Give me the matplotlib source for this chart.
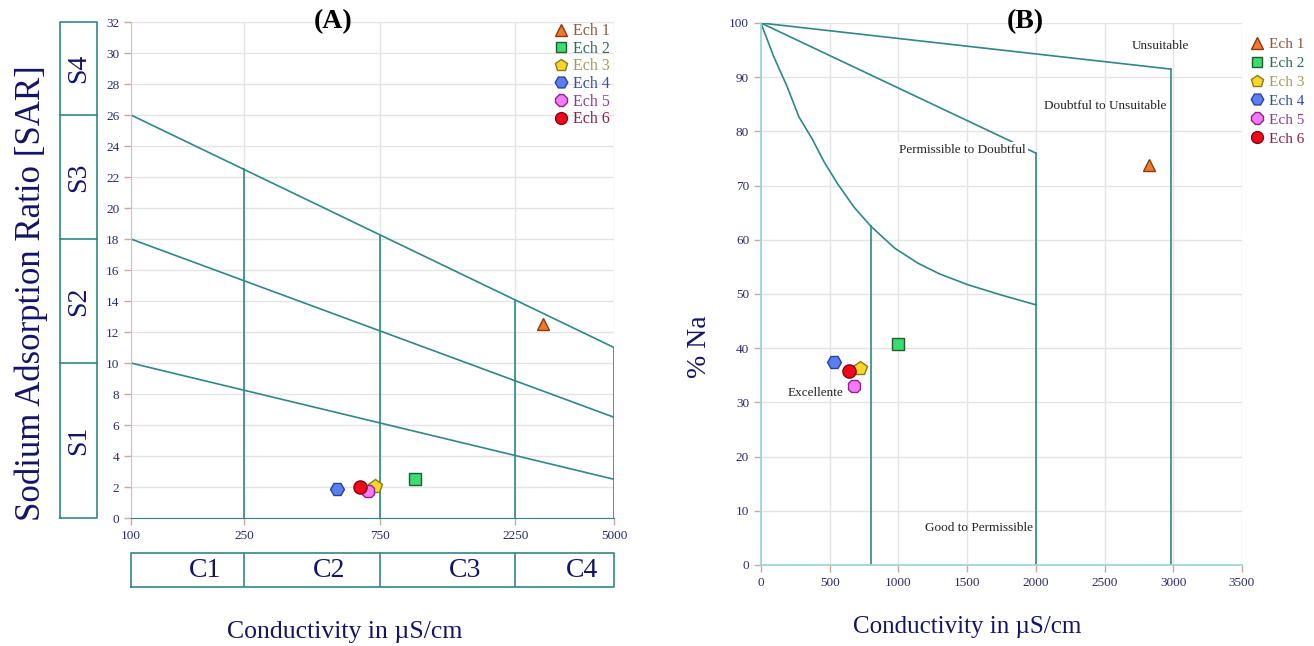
import matplotlib
matplotlib.use("Agg")
import matplotlib.pyplot as plt
from matplotlib.lines import Line2D
import numpy as np

plt.rcParams["font.family"] = ["Liberation Serif", "DejaVu Serif"]

# samples
samples = ["Ech 1", "Ech 2", "Ech 3", "Ech 4", "Ech 5", "Ech 6"]
ec = [2820, 1000, 720, 530, 680, 640]          # conductivity, uS/cm
sar = [12.5, 2.55, 2.05, 1.85, 1.75, 2.0]
na_pct = [73.8, 40.8, 36.4, 37.4, 33.1, 35.8]

markers = ["^", "s", "p", "H", "8", "o"]
msizes = [9, 8, 10, 10, 10, 9.5]
face = ["#f07a2a", "#3ddc6e", "#f7d82a", "#5a80f0", "#f57af5", "#ee0a1a"]
edge = ["#8a3a10", "#1d5e30", "#8a7a10", "#2a40a0", "#902090", "#8a0010"]
label_col = ["#8b5a3c", "#2e6b50", "#a39a5a", "#3050a0", "#8e3c90", "#8a2040"]

# Richards (USSL) diagram boundaries
sar_x = [100, 5000]
sar_lines = [[26, 11], [18, 6.5], [10, 2.5]]
c_bounds = [250, 750, 2250]
s_bounds = [0, 10, 18, 26, 32]
c_names = ["C1", "C2", "C3", "C4"]
s_names = ["S1", "S2", "S3", "S4"]

# Wilcox diagram boundaries
unsuit_x = [0, 2980]
unsuit_y = [100, 91.5]
doubt_x = [0, 2000]
doubt_y = [100, 76]
good_x = [0, 93, 190, 276, 373, 459, 556, 678, 800, 971, 1141, 1300, 1507, 1750, 2000]
good_y = [100, 93.8, 88.3, 82.7, 78.6, 74.4, 70.4, 66.0, 62.5, 58.5, 55.7, 53.7, 51.7, 49.8, 48]
verticals_x = [800, 2000, 2980]
verticals_top = [62.5, 76, 91.5]

TEAL = "#2f8787"
LIGHT_TEAL = "#9fd6d6"
NAVY = "#141466"
TICK_TXT = "#2a2a6a"
TICK_COL = "#d4a59a"
GRID = "#e4e4e4"


def style_axes(ax):
    ax.grid(True, color=GRID, lw=1.0)
    ax.set_axisbelow(True)
    for s in ["top", "right"]:
        ax.spines[s].set_visible(False)
    ax.tick_params(colors=TICK_COL, labelcolor=TICK_TXT, labelsize=9.5, length=5, width=1)


def add_legend(ax, spacing, fontsize, **kw):
    handles = [Line2D([], [], ls="none", marker=m, ms=s * 0.9, mfc=f, mec=e, mew=1)
               for m, s, f, e in zip(markers, msizes, face, edge)]
    leg = ax.legend(handles, samples, frameon=False, fontsize=fontsize, handletextpad=0.2,
                    labelspacing=spacing, borderpad=0.2, handlelength=1.1, **kw)
    for t, c in zip(leg.get_texts(), label_col):
        t.set_color(c)
    return leg


fig = plt.figure(figsize=(13.14, 6.46), dpi=100)

# ---- (A) SAR vs conductivity ----
ax = fig.add_axes([0.0997, 0.1981, 0.3676, 0.7678])
ax.set_xscale("log")
ax.set_xlim(100, 5000)
ax.set_ylim(0, 32)
ax.set_xticks([100, 250, 750, 2250, 5000])
ax.set_xticklabels(["100", "250", "750", "2250", "5000"])
ax.minorticks_off()
ax.set_yticks(range(0, 33, 2))
style_axes(ax)
ax.spines["left"].set_color(LIGHT_TEAL)
ax.spines["bottom"].set_color(TEAL)

for y0, y1 in sar_lines:
    ax.plot(sar_x, [y0, y1], color=TEAL, lw=1.2, zorder=2)
ax.plot([100, 100], [0, sar_lines[0][0]], color=TEAL, lw=1.4, zorder=2)
top_line = sar_lines[0]
for xb in c_bounds + [5000]:
    frac = (np.log10(xb) - np.log10(100)) / (np.log10(5000) - np.log10(100))
    ytop = top_line[0] + (top_line[1] - top_line[0]) * frac
    ax.plot([xb, xb], [0, ytop], color=TEAL, lw=1.2, zorder=2)

for i in range(len(samples)):
    ax.plot(ec[i], sar[i], ls="none", marker=markers[i], ms=msizes[i], mfc=face[i],
            mec=edge[i], mew=1, zorder=5)
add_legend(ax, 0.1, 11.5, loc="upper right", bbox_to_anchor=(1.015, 1.02))

# S boxes on the left
axs = fig.add_axes([60 / 1314, 0.1981, 37 / 1314, 0.7678])
axs.set_xlim(0, 1)
axs.set_ylim(0, 32)
axs.axis("off")
axs.plot([0, 0, 1, 1, 0], [0, 32, 32, 0, 0], color=TEAL, lw=1.2, clip_on=False)
for yb in s_bounds[1:-1]:
    axs.plot([0, 1], [yb, yb], color=TEAL, lw=1.2, clip_on=False)
for name, lo, hi in zip(s_names, s_bounds[:-1], s_bounds[1:]):
    axs.text(0.5, (lo + hi) / 2, name, rotation=90, ha="center", va="center",
             fontsize=20, color=NAVY)

# C boxes underneath
axc = fig.add_axes([0.0997, 0.0913, 0.3676, 0.0526])
axc.set_xscale("log")
axc.set_xlim(100, 5000)
axc.set_ylim(0, 1)
axc.axis("off")
axc.plot([100, 100, 5000, 5000, 100], [0, 1, 1, 0, 0], color=TEAL, lw=1.2, clip_on=False)
for xb in c_bounds:
    axc.plot([xb, xb], [0, 1], color=TEAL, lw=1.2)
edges_c = [100] + c_bounds + [5000]
for name, lo, hi in zip(c_names, edges_c[:-1], edges_c[1:]):
    axc.text(np.sqrt(lo * hi) * 1.15, 0.5, name, ha="center", va="center",
             fontsize=20, color=NAVY)

fig.text(0.0235, 0.5464, "Sodium Adsorption Ratio [SAR]", rotation=90, ha="center",
         va="center", fontsize=25, color=NAVY)
fig.text(0.2626, 0.0217, "Conductivity in µS/cm", ha="center", va="center",
         fontsize=18.5, color=NAVY)
fig.text(0.2534, 0.966, "(A)", ha="center", va="center", fontsize=20, fontweight="bold")

# ---- (B) %Na vs conductivity ----
bx = fig.add_axes([0.5791, 0.1254, 0.3661, 0.839])
bx.set_xlim(0, 3500)
bx.set_ylim(0, 100)
bx.set_xticks(range(0, 3501, 500))
bx.set_yticks(range(0, 101, 10))
style_axes(bx)
bx.spines["left"].set_color(LIGHT_TEAL)
bx.spines["bottom"].set_color(LIGHT_TEAL)
bx.spines["left"].set_linewidth(1.3)
bx.spines["bottom"].set_linewidth(1.3)

bx.plot(unsuit_x, unsuit_y, color=TEAL, lw=1.2, zorder=2)
bx.plot(doubt_x, doubt_y, color=TEAL, lw=1.2, zorder=2)
bx.plot(good_x, good_y, color=TEAL, lw=1.2, zorder=2)
for xv, yt in zip(verticals_x, verticals_top):
    bx.plot([xv, xv], [0, yt], color=TEAL, lw=1.2, zorder=2)

txt_kw = dict(ha="center", va="center", fontsize=9.5, color="#222222", zorder=3)
bx.text(2906, 95.8, "Unsuitable", **txt_kw)
bx.text(2502, 84.7, "Doubtful to Unsuitable", **txt_kw)
bx.text(1465, 76.5, "Permissible to Doubtful",
        bbox=dict(facecolor="white", edgecolor="none", pad=1.5), **txt_kw)
bx.text(395, 31.7, "Excellente", **txt_kw)
bx.text(1587, 6.8, "Good to Permissible", **txt_kw)

for i in range(len(samples)):
    bx.plot(ec[i], na_pct[i], ls="none", marker=markers[i], ms=msizes[i], mfc=face[i],
            mec=edge[i], mew=1, zorder=5)
add_legend(bx, 0.34, 11, loc="upper left", bbox_to_anchor=(0.992, 0.993))

fig.text(0.5327, 0.4628, "% Na", rotation=90, ha="center", va="center",
         fontsize=20, color=NAVY)
fig.text(0.736, 0.0294, "Conductivity in µS/cm", ha="center", va="center",
         fontsize=18, color=NAVY)
fig.text(0.780, 0.966, "(B)", ha="center", va="center", fontsize=20, fontweight="bold")

fig.savefig("out.png", dpi=100)
